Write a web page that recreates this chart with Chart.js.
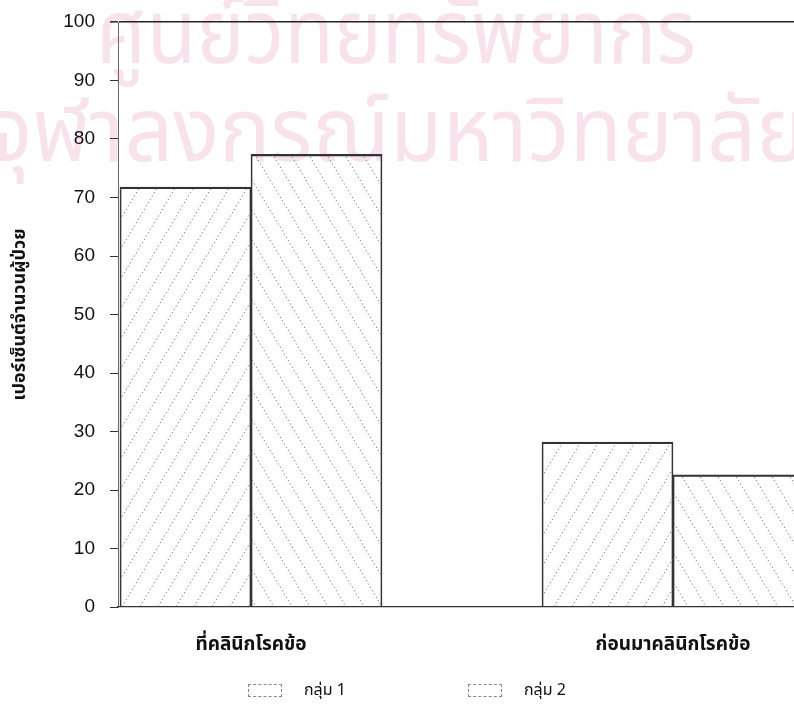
<!DOCTYPE html>
<html lang="th">
<head>
<meta charset="utf-8">
<script src="https://cdn.jsdelivr.net/npm/chart.js@4.4.1/dist/chart.umd.min.js"></script>
<style>
    html, body { margin: 0; padding: 0; background: #fff; overflow: hidden; }
    #wrap { position: relative; width: 794px; height: 713px; overflow: hidden; }
    #chart-groups { position: absolute; left: 0; top: 0; }
    #chart-groups-legend { position: absolute; left: 0; top: 0; width: 794px; margin: 0; padding: 0; list-style: none; }
    .chart-groups-legend__item {
        position: absolute; top: 680px; height: 20px; display: flex; align-items: center; white-space: nowrap;
        font-family: "Noto Sans Thai", "Noto Sans", sans-serif; font-size: 16px; color: #111;
    }
    .chart-groups-legend__item span {
        display: inline-block; width: 34px; height: 13px; margin-right: 22px;
        border: 1px dashed #888; box-sizing: border-box;
    }
</style>
</head>
<body>
<div id="wrap">
    <canvas id="chart-groups" width="870" height="713"></canvas>
    <ul id="chart-groups-legend"></ul>
</div>
<script>
// data
const categories = ['ที่คลินิกโรคข้อ', 'ก่อนมาคลินิกโรคข้อ']
const seriesNames = ['กลุ่ม 1', 'กลุ่ม 2']
const group1 = [71.8, 28.2]
const group2 = [77.4, 22.6]
const yTitle = 'เปอร์เซ็นต์จำนวนผู้ป่วย'
const watermark = ['ศูนย์วิทยทรัพยากร', 'จุฬาลงกรณ์มหาวิทยาลัย']

const thaiFont = '"Noto Sans Thai", "Noto Sans", sans-serif'

// dotted diagonal hatch, dir 1 = "/" , -1 = "\"
function hatch(dir) {
    const w = 18, h = 30
    const c = document.createElement('canvas')
    c.width = w
    c.height = h
    const g = c.getContext('2d')
    g.strokeStyle = '#7c7c7c'
    g.lineWidth = 1
    g.setLineDash([1.4, 2.5])
    for (const off of [-w, 0, w]) {
        g.beginPath()
        if (dir > 0) {
            g.moveTo(off, h)
            g.lineTo(off + w, 0)
        } else {
            g.moveTo(off, 0)
            g.lineTo(off + w, h)
        }
        g.stroke()
    }
    return g.createPattern(c, 'repeat')
}

// categories sit at x = 1, 2 on a linear axis so the first bar can touch the y axis
const xMin = 1 - 133 / 422
const xMax = xMin + 752 / 422

const watermarkPlugin = {
    id: 'watermark',
    beforeDraw(chart) {
        const ctx = chart.ctx
        ctx.save()
        ctx.fillStyle = '#f8e3ed'
        ctx.textAlign = 'center'
        ctx.textBaseline = 'middle'
        ctx.font = '90px ' + thaiFont
        ctx.fillText(watermark[0], 396, 45, 600)
        ctx.fillText(watermark[1], 397, 143, 820)
        ctx.restore()
    },
}

const ctx = document.getElementById('chart-groups').getContext('2d')
const chartGroups = new Chart(ctx, {
    type: 'bar',
    data: {
        datasets: [
            {
                label: seriesNames[0],
                data: group1.map((v, i) => ({ x: i + 1, y: v })),
                backgroundColor: hatch(1),
                borderColor: '#333',
                borderWidth: { top: 1.6, left: 1, right: 1, bottom: 0 },
                barThickness: 131,
            },
            {
                label: seriesNames[1],
                data: group2.map((v, i) => ({ x: i + 1, y: v })),
                backgroundColor: hatch(-1),
                borderColor: '#333',
                borderWidth: { top: 1.6, left: 1, right: 1, bottom: 0 },
                barThickness: 131,
            },
        ],
    },
    options: {
        responsive: false,
        animation: false,
        layout: { padding: { top: 22, left: 0, right: 0, bottom: 0 } },
        plugins: {
            legend: { display: false },
            tooltip: { enabled: false },
        },
        scales: {
            x: {
                type: 'linear',
                min: xMin,
                max: xMax,
                offset: false,
                bounds: 'data',
                afterBuildTicks: (scale) => {
                    scale.ticks = categories.map((c, i) => ({ value: i + 1 }))
                },
                afterFit: (scale) => {
                    scale.height = 106
                    scale.paddingLeft = 0
                    scale.paddingRight = 0
                },
                grid: { display: false, offset: false },
                border: { display: true, color: '#333', width: 1.2 },
                ticks: {
                    padding: 20,
                    color: '#111',
                    font: { family: thaiFont, size: 19, weight: 'bold' },
                    callback: (v) => categories[v - 1] || '',
                    maxRotation: 0,
                },
            },
            y: {
                min: 0,
                max: 100,
                afterFit: (scale) => {
                    scale.width = 118
                    scale.paddingTop = 0
                    scale.paddingBottom = 0
                },
                ticks: {
                    stepSize: 10,
                    padding: 15,
                    color: '#111',
                    font: { family: '"Liberation Sans", Arial, sans-serif', size: 19 },
                },
                grid: {
                    color: (c) => (c.tick && c.tick.value === 100 ? '#222' : 'rgba(0,0,0,0)'),
                    lineWidth: (c) => (c.tick && c.tick.value === 100 ? 1.6 : 1),
                    tickColor: '#333',
                    tickLength: 8,
                },
                border: { display: true, color: '#666', width: 1 },
                title: {
                    display: true,
                    text: yTitle,
                    color: '#111',
                    font: { family: thaiFont, size: 18, weight: 'bold' },
                    padding: { top: 11, bottom: 0 },
                },
            },
        },
    },
    plugins: [
        watermarkPlugin,
        {
            beforeInit: function (chart) {
                const ul = document.getElementById('chart-groups-legend')
                const lefts = [248, 468]
                chart.data.datasets.forEach((ds, i) => {
                    ul.innerHTML += `
                        <li class="chart-groups-legend__item" style="left: ${lefts[i]}px">
                            <span></span>${ds.label}
                        </li>
                    `
                })
            },
        },
    ],
})
</script>
</body>
</html>
